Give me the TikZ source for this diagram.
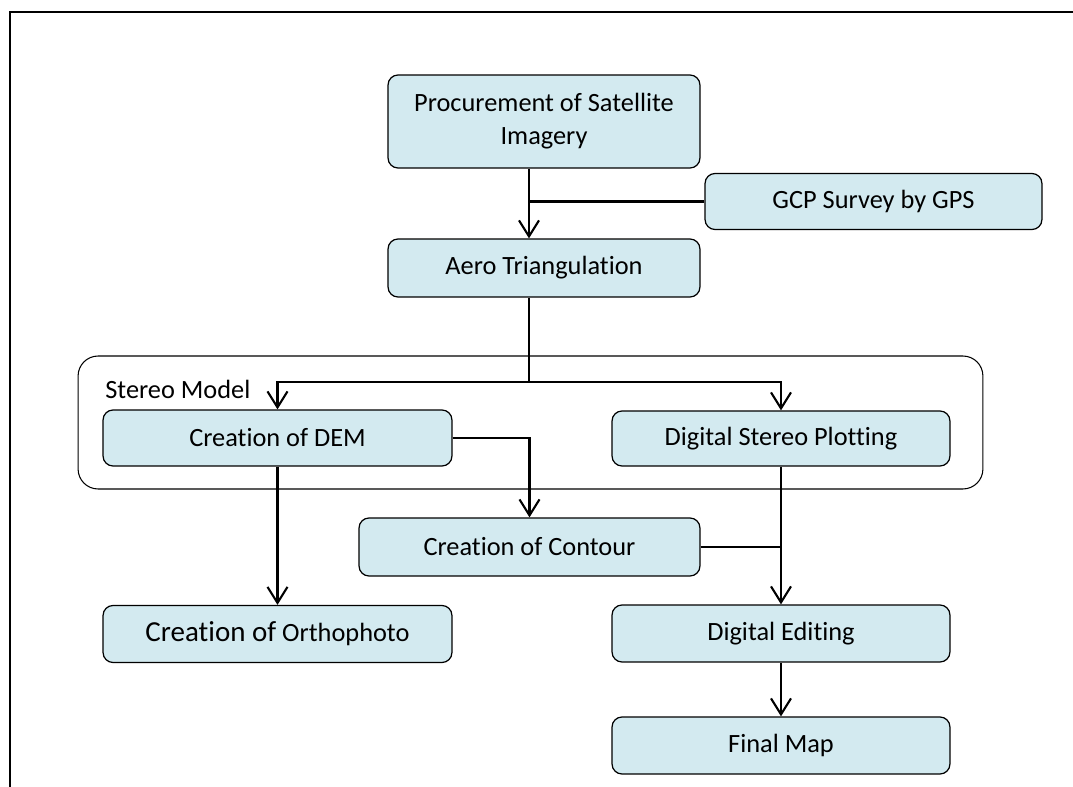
\documentclass[tikz,border=0pt]{standalone}
\usepackage{fontspec}
\setmainfont{Carlito}[Ligatures=NoCommon]
\usepackage{xcolor}
\usepackage{tikz}
\usetikzlibrary{shapes,arrows.meta,positioning,calc}
\definecolor{boxblue}{RGB}{211,234,240}

\begin{document}
\begin{tikzpicture}[
    x=0.02cm, y=-0.02cm,
    pbox/.style={rectangle, draw, rounded corners=0.2cm, fill=boxblue, line width=0.7pt, align=center, font=\fontsize{15}{18.8}\selectfont},
    stereo/.style={rectangle, draw, rounded corners=0.4cm, line width=0.6pt},
    arrow/.style={-{Straight Barb[length=0.32cm, width=0.4cm]}, line width=1.2pt},
    line/.style={line width=1.2pt}
]
\useasboundingbox (0,0) rectangle (1073,787);
\draw[line width=1.4pt] (10,787) -- (10,12) -- (1073,12);

\node[stereo, minimum width=18.1cm, minimum height=2.66cm] (model) at (530.5,422.5) {};
\node[anchor=west, font=\fontsize{15}{18}\selectfont, inner sep=0pt] (modellab) at (105,389) {Stereo Model};

\node[pbox, minimum width=6.24cm, minimum height=1.86cm] (proc) at (544,121.5) {Procurement of Satellite\\Imagery};
\node[pbox, minimum width=6.74cm, minimum height=1.12cm] (gcp) at (873.5,201.5) {GCP Survey by GPS};
\node[pbox, minimum width=6.24cm, minimum height=1.16cm] (aero) at (544,268) {Aero Triangulation};
\node[pbox, minimum width=6.98cm, minimum height=1.12cm] (dem) at (277.5,438) {Creation of DEM};
\node[pbox, minimum width=6.76cm, minimum height=1.1cm] (dsp) at (781,438.5) {Digital Stereo Plotting};
\node[pbox, minimum width=6.82cm, minimum height=1.16cm] (contour) at (529.5,547) {Creation of Contour};
\node[pbox, minimum width=6.98cm, minimum height=1.14cm] (ortho) at (277.5,634) {{\fontsize{16.5}{19}\selectfont Creation of} Orthophoto};
\node[pbox, minimum width=6.76cm, minimum height=1.14cm] (edit) at (781,633.5) {Digital Editing};
\node[pbox, minimum width=6.76cm, minimum height=1.14cm] (final) at (781,745.5) {Final Map};

\coordinate (gcpjoin) at (529,202);
\coordinate (split) at (529,382);

\draw[arrow] (proc.south -| gcpjoin) -- (aero.north -| gcpjoin);
\draw[line] (gcp.west) -- (gcp.west -| gcpjoin);
\draw[line] (aero.south -| split) -- (split);
\draw[arrow] (split) -| (dem.north);
\draw[arrow] (split) -| (dsp.north);
\draw[arrow] (dem.east) -| (contour.north);
\draw[arrow] (dem) -- (ortho);
\draw[arrow] (dsp) -- (edit);
\draw[line] (contour.east) -- (contour.east -| dsp.south);
\draw[arrow] (edit) -- (final);
\end{tikzpicture}
\end{document}
